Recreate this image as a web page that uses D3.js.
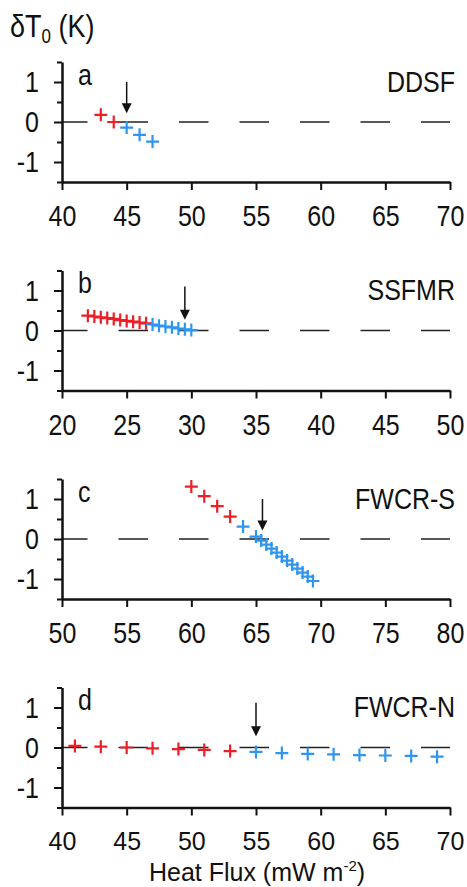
<!DOCTYPE html>
<html>
<head>
<meta charset="utf-8">
<script src="https://cdn.jsdelivr.net/npm/d3@7"></script>
<style>
  body { margin: 0; background: #fff; }
  text { font-family: "Liberation Sans", Arial, sans-serif; fill: #111; }
  /* the original figure's lettering is a bit taller than wide */
  text.tall { transform-box: fill-box; transform-origin: center; transform: scaleY(1.18); }
</style>
</head>
<body>
<div id="chart"></div>
<script>
// constants
const W = 467
const H = 887
const plot_left = 62
const plot_right = 450
const panel_top0 = 62
const panel_step = 208.5
const panel_height = 120
const font_size = 25

const red = '#ec1f27'
const blue = '#2f96ee'

// panel info
const letters = ['a', 'b', 'c', 'd']
const names = ['DDSF', 'SSFMR', 'FWCR-S', 'FWCR-N']
const x_domains = [[40, 70], [20, 50], [50, 80], [40, 70]]
const y_domain = [-1.5, 1.5]
const y_labels = [-1, 0, 1]
const y_minor = [-1.5, -0.5, 0.5, 1.5]

// data: [heat flux, dT0]
const red_a = [[43, 0.18], [44, 0.0]]
const blue_a = [[45, -0.14], [46, -0.32], [47, -0.49]]

const red_b = [[22, 0.37], [22.5, 0.35], [23, 0.33], [23.5, 0.31], [24, 0.29],
               [24.5, 0.26], [25, 0.24], [25.5, 0.22], [26, 0.2], [26.5, 0.18]]
const blue_b = [[27, 0.15], [27.5, 0.12], [28, 0.1], [28.5, 0.08], [29, 0.05],
                [29.5, 0.03], [30, 0.01]]

const red_c = [[60, 1.31], [61, 1.07], [62, 0.82], [63, 0.56]]
const blue_c = [[64, 0.31], [65, 0.06], [65.4, -0.04], [65.8, -0.14], [66.2, -0.24],
                [66.6, -0.34], [67, -0.44], [67.4, -0.54], [67.8, -0.64], [68.2, -0.74],
                [68.6, -0.84], [69, -0.94], [69.4, -1.05]]

const red_d = [[41, 0.04], [43, 0.02], [45, 0.0], [47, -0.02], [49, -0.04],
               [51, -0.06], [53, -0.09]]
const blue_d = [[55, -0.11], [57, -0.14], [59, -0.16], [61, -0.17], [63, -0.19],
                [65, -0.2], [67, -0.21], [69, -0.23]]

const reds = [red_a, red_b, red_c, red_d]
const blues = [blue_a, blue_b, blue_c, blue_d]

// arrows: [x, y start, y tip]
const arrows = [[45, 1.0, 0.22], [29.5, 1.1, 0.27], [65.5, 1.0, 0.21], [55, 1.12, 0.28]]

const plus = 'M-6.5,0H6.5M0,-6.5V6.5'

const svg = d3.select('#chart')
    .append('svg')
        .attr('width', W)
        .attr('height', H)

// y label
const ttl = svg.append('text')
    .attr('class', 'tall')
    .attr('x', 10)
    .attr('y', 36)
    .style('font-size', '27px')
ttl.append('tspan').text('δT')
ttl.append('tspan').attr('dy', 5).style('font-size', '17px').text('0')
ttl.append('tspan').attr('dy', -5).text(' (K)')

letters.forEach(function(letter, i) {
    const top = panel_top0 + i * panel_step
    const last = i == letters.length - 1
    const g = svg.append('g')

    const x = d3.scaleLinear()
                .domain(x_domains[i])
                .range([plot_left, plot_right])
    const y = d3.scaleLinear()
                .domain(y_domain)
                .range([top + panel_height, top])

    // dashed zero line
    g.append('line')
        .attr('x1', x.range()[0])
        .attr('x2', x.range()[1])
        .attr('y1', y(0))
        .attr('y2', y(0))
        .attr('stroke', '#222')
        .attr('stroke-width', 1.5)
        .attr('stroke-dasharray', '29.5,31')
        .attr('stroke-dashoffset', 4)

    // x axis
    const lo = x_domains[i][0], hi = x_domains[i][1]
    const xa = g.append('g')
        .attr('transform', `translate(0, ${y(y_domain[0])})`)
        .call(d3.axisBottom(x)
                .tickValues(d3.range(lo, hi + 1, 5))
                .tickSize(8)
                .tickSizeOuter(0)
                .tickPadding(17)
                .tickFormat(d => String(d)))
    xa.select('.domain').attr('stroke', '#111').attr('stroke-width', 2.5)
    xa.selectAll('.tick line').attr('stroke', '#111').attr('stroke-width', 2)
    xa.selectAll('text')
        .attr('class', last ? null : 'tall')
        .style('font-size', font_size + 'px')
        .attr('fill', '#111')

    // y axis, minor ticks then labelled ticks
    const ym = g.append('g')
        .attr('transform', `translate(${plot_left}, 0)`)
        .call(d3.axisLeft(y)
                .tickValues(y_minor)
                .tickSize(5)
                .tickSizeOuter(0)
                .tickFormat(''))
    ym.select('.domain').attr('stroke', '#111').attr('stroke-width', 2.5)
    ym.selectAll('.tick line').attr('stroke', '#111').attr('stroke-width', 2)

    const ya = g.append('g')
        .attr('transform', `translate(${plot_left}, 0)`)
        .call(d3.axisLeft(y)
                .tickValues(y_labels)
                .tickSize(8)
                .tickSizeOuter(0)
                .tickPadding(15)
                .tickFormat(d => String(d)))
    ya.select('.domain').remove()
    ya.selectAll('.tick line').attr('stroke', '#111').attr('stroke-width', 2)
    ya.selectAll('text').attr('class', 'tall').style('font-size', font_size + 'px').attr('fill', '#111')

    // panel letter and name
    g.append('text')
        .attr('class', 'tall')
        .attr('x', 78)
        .attr('y', y(1) + 1)
        .style('font-size', font_size + 'px')
        .text(letter)
    g.append('text')
        .attr('class', 'tall')
        .attr('x', 455)
        .attr('y', y(1) + 8)
        .attr('text-anchor', 'end')
        .style('font-size', font_size + 'px')
        .text(names[i])

    // markers
    g.selectAll('path.red')
        .data(reds[i])
        .join('path')
            .attr('class', 'red')
            .attr('d', plus)
            .attr('transform', d => `translate(${x(d[0])}, ${y(d[1])})`)
            .attr('stroke', red)
            .attr('stroke-width', 2.2)
            .attr('fill', 'none')
    g.selectAll('path.blue')
        .data(blues[i])
        .join('path')
            .attr('class', 'blue')
            .attr('d', plus)
            .attr('transform', d => `translate(${x(d[0])}, ${y(d[1])})`)
            .attr('stroke', blue)
            .attr('stroke-width', 2.2)
            .attr('fill', 'none')

    // arrow
    const a = arrows[i]
    const ax = x(a[0]), ay0 = y(a[1]), ay1 = y(a[2])
    g.append('line')
        .attr('x1', ax).attr('x2', ax)
        .attr('y1', ay0).attr('y2', ay1 - 6)
        .attr('stroke', '#111')
        .attr('stroke-width', 1.5)
    g.append('path')
        .attr('d', `M${ax - 5},${ay1 - 10}L${ax + 5},${ay1 - 10}L${ax},${ay1}Z`)
        .attr('fill', '#111')
})

// x label
const xl = svg.append('text')
    .attr('x', 257)
    .attr('y', 881)
    .attr('text-anchor', 'middle')
    .style('font-size', font_size + 'px')
xl.append('tspan').text('Heat Flux (mW m')
xl.append('tspan').attr('dy', -10).style('font-size', '15px').text('-2')
xl.append('tspan').attr('dy', 10).text(')')
</script>
</body>
</html>
